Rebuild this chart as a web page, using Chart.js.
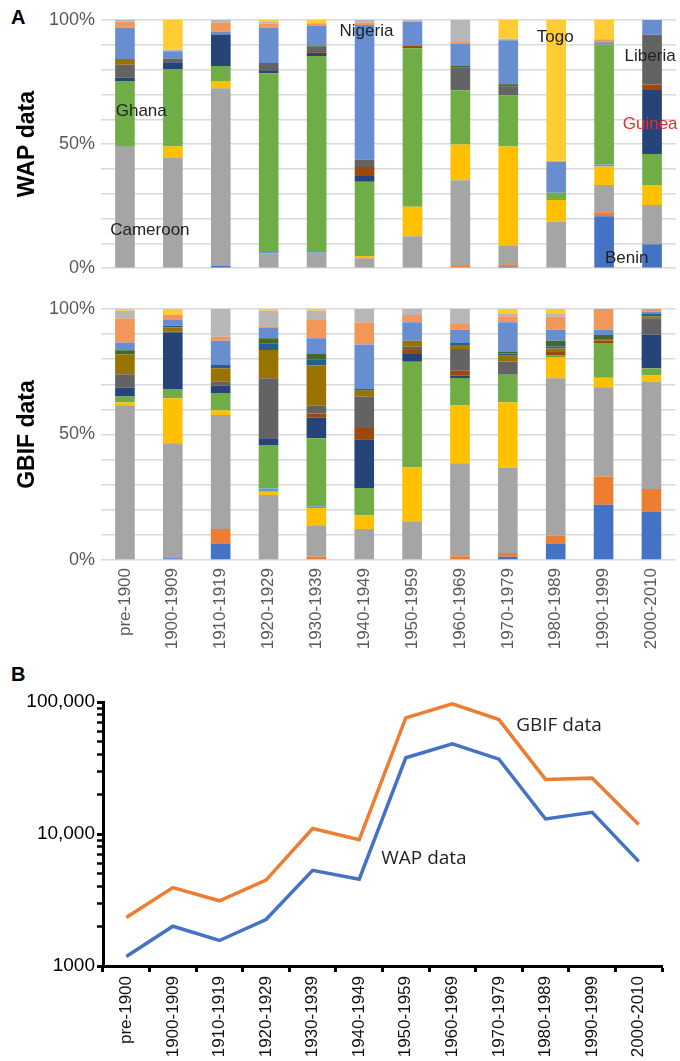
<!DOCTYPE html>
<html>
<head>
<meta charset="utf-8">
<script src="https://cdn.jsdelivr.net/npm/chart.js@4.4.1/dist/chart.umd.min.js"></script>
<style>
  body { margin: 0; background: #fff; }
  .panel { position: absolute; left: 0; }
  .tag { position: absolute; left: 11px; font: bold 20px "Liberation Sans", Arial, sans-serif; color: #000; }
</style>
</head>
<body>
<div class="tag" style="top:6px;">A</div>
<div class="tag" style="top:663px;">B</div>
<canvas id="wapChart" class="panel" style="top:0px;" width="680" height="285"></canvas>
<canvas id="gbifChart" class="panel" style="top:290px;" width="680" height="370"></canvas>
<canvas id="lineChart" class="panel" style="top:680px;" width="680" height="381"></canvas>
<script>
// decades on the x axis
const decades = ['pre-1900', '1900-1909', '1910-1919', '1920-1929', '1930-1939', '1940-1949',
  '1950-1959', '1960-1969', '1970-1979', '1980-1989', '1990-1999', '2000-2010'];

// countries, bottom of stack first
const countries = ['Benin', 'Burkina Faso', 'Cameroon', "Côte d'Ivoire", 'Gambia', 'Ghana', 'Guinea',
  'Guinea-Bissau', 'Liberia', 'Mali', 'Mauritania', 'Niger', 'Nigeria', 'Senegal', 'Sierra Leone', 'Togo'];
const countryColors = ['#4472C4', '#ED7D31', '#A5A5A5', '#FFC000', '#5B9BD5', '#70AD47', '#264478',
  '#9E480E', '#636363', '#997300', '#255E91', '#43682B', '#698ED0', '#F1975A', '#B7B7B7', '#FFCD33'];

// WAP data, % of records per decade
const wapBenin       = [0, 0, 0.9, 0, 0, 0, 0, 0, 0.7, 0, 20.9, 9.7];
const wapBurkina     = [0, 0, 0, 0, 0, 0, 0, 0.9, 0.9, 0, 1.6, 0];
const wapCameroon    = [49.3, 44.4, 71.7, 6.0, 6.2, 4.0, 12.8, 34.6, 7.3, 18.8, 11.0, 15.8];
const wapIvoryCoast  = [0, 4.6, 2.9, 0, 0, 0.9, 11.9, 14.4, 40.1, 8.7, 7.4, 8.1];
const wapGambia      = [0, 0, 0, 0.9, 0.7, 0, 0, 0, 0, 0, 0.8, 0];
const wapGhana       = [26.2, 31.1, 6.0, 71.7, 78.5, 29.9, 63.6, 21.9, 20.5, 2.9, 48.3, 12.5];
const wapGuinea      = [1.3, 2.9, 12.8, 0.9, 1.3, 2.3, 0, 0, 0, 0, 0, 25.8];
const wapBissau      = [0, 0, 0, 0, 0.7, 3.7, 1.1, 0, 0, 0, 0, 2.3];
const wapLiberia     = [5.3, 1.5, 0, 3.3, 1.7, 2.9, 0, 9.0, 3.7, 0, 0, 20.0];
const wapMali        = [2.3, 0, 0, 0, 0, 0, 0, 0, 0, 0, 0, 0];
const wapMauritania  = [0, 0, 0, 0, 0, 0, 0, 0, 0, 0, 0, 0];
const wapNiger       = [0, 0, 0, 0, 0.5, 0, 0, 0.7, 0.8, 0, 0, 0];
const wapNigeria     = [12.6, 2.9, 1.1, 14.2, 8.1, 54.3, 9.5, 8.9, 17.7, 12.6, 0.9, 6.0];
const wapSenegal     = [2.4, 0, 3.6, 1.7, 0.9, 0.9, 0, 0.8, 0, 0, 1.3, 0];
const wapSierraLeone = [0.7, 0.7, 1.1, 0.7, 0, 1.1, 0.7, 8.9, 0.7, 0, 0, 0];
const wapTogo        = [0, 11.9, 0, 0.7, 1.3, 0, 0, 0, 7.5, 57.0, 7.7, 0];

// GBIF data, % of records per decade
const gbifBenin       = [0, 0.7, 6.6, 0, 0, 0, 0, 0, 1.3, 6.6, 22.0, 19.3];
const gbifBurkina     = [0, 0, 5.7, 0, 1.3, 0, 0, 1.5, 1.5, 3.1, 11.2, 9.0];
const gbifCameroon    = [61.8, 45.8, 45.4, 25.9, 12.6, 12.4, 15.4, 37.1, 34.1, 62.8, 35.6, 42.8];
const gbifIvoryCoast  = [1.1, 17.9, 1.7, 1.3, 6.8, 5.3, 21.5, 23.0, 25.9, 8.2, 3.7, 2.4];
const gbifGambia      = [0, 0, 0, 1.3, 0.7, 0, 0, 0, 0, 0, 0, 0];
const gbifGhana       = [2.4, 3.7, 7.0, 17.4, 27.2, 11.0, 42.1, 11.0, 11.0, 1.1, 13.9, 2.9];
const gbifGuinea      = [3.6, 22.3, 2.9, 2.7, 8.2, 19.5, 3.1, 0.9, 0, 0, 0, 13.3];
const gbifBissau      = [0, 0, 0, 0, 1.6, 4.4, 1.6, 2.0, 0, 1.2, 0.9, 0];
const gbifLiberia     = [5.3, 0.5, 1.6, 23.9, 3.1, 12.5, 1.3, 8.6, 5.3, 0, 0, 6.6];
const gbifMali        = [8.0, 1.7, 5.3, 11.2, 16.2, 2.4, 2.4, 1.6, 2.3, 1.3, 0.7, 0.8];
const gbifMauritania  = [0, 0.7, 1.3, 2.7, 2.4, 0, 0, 0.8, 0.9, 0.8, 0, 0.9];
const gbifNiger       = [1.6, 0, 0, 2.0, 2.3, 0.7, 0, 0, 0.8, 2.3, 1.6, 0];
const gbifNigeria     = [3.1, 2.3, 9.7, 4.1, 6.0, 17.7, 7.3, 5.3, 11.6, 4.4, 2.1, 0.9];
const gbifSenegal     = [9.6, 2.1, 1.6, 0.7, 7.3, 8.9, 2.9, 2.3, 2.4, 5.2, 8.2, 1.1];
const gbifSierraLeone = [3.1, 0, 11.0, 6.2, 3.7, 5.3, 2.4, 6.0, 0.9, 1.1, 0, 0];
const gbifTogo        = [0.7, 2.3, 0, 0.7, 0.7, 0, 0, 0, 2.0, 2.0, 0, 0];

// total records per decade (panel B)
const wapTotals  = [1180, 2000, 1560, 2250, 5300, 4550, 37800, 48200, 36900, 13000, 14600, 6200];
const gbifTotals = [2330, 3930, 3120, 4470, 11000, 9070, 75900, 96800, 73600, 25900, 26500, 11800];

// y tick labels
const shareTicks = [0, 50, 100];
const countTicks = [1000, 10000, 100000];
const countTickLabels = ['1000', '10,000', '100,000'];

// country names written on panel A (category index, % value)
const wapNotes = [
  { text: 'Ghana', x: 0.34, y: 63.2, color: '#222' },
  { text: 'Cameroon', x: 0.52, y: 15.2, color: '#222' },
  { text: 'Nigeria', x: 5.04, y: 95.6, color: '#222' },
  { text: 'Togo', x: 8.98, y: 93.2, color: '#222' },
  { text: 'Liberia', x: 10.96, y: 85.2, color: '#222' },
  { text: 'Guinea', x: 10.96, y: 58.0, color: '#E0302A' },
  { text: 'Benin', x: 10.47, y: 4.0, color: '#222' }
];
const lineNotes = [
  { text: 'GBIF data', x: 9.29, y: 66300, color: '#222' },
  { text: 'WAP data', x: 6.39, y: 6550, color: '#222' }
];

const FONT = '"Liberation Sans", Arial, sans-serif';

const wapSeries = [wapBenin, wapBurkina, wapCameroon, wapIvoryCoast, wapGambia, wapGhana, wapGuinea,
  wapBissau, wapLiberia, wapMali, wapMauritania, wapNiger, wapNigeria, wapSenegal, wapSierraLeone, wapTogo];
const gbifSeries = [gbifBenin, gbifBurkina, gbifCameroon, gbifIvoryCoast, gbifGambia, gbifGhana, gbifGuinea,
  gbifBissau, gbifLiberia, gbifMali, gbifMauritania, gbifNiger, gbifNigeria, gbifSenegal, gbifSierraLeone, gbifTogo];

// scale every decade so the stack sums to 100%
function toDatasets(series) {
  const sums = decades.map((_, i) => series.reduce((t, s) => t + s[i], 0));
  return series.map((s, k) => ({
    label: countries[k],
    data: s.map((v, i) => v / sums[i] * 100),
    backgroundColor: countryColors[k],
    borderWidth: 0,
    categoryPercentage: 1,
    barPercentage: 0.41
  }));
}

// draws text notes at data positions
const notesPlugin = {
  id: 'notes',
  afterDatasetsDraw(chart, args, opts) {
    if (!opts.items) return;
    const ctx = chart.ctx;
    ctx.save();
    ctx.font = opts.font;
    ctx.textAlign = 'center';
    ctx.textBaseline = 'middle';
    opts.items.forEach(n => {
      ctx.fillStyle = n.color;
      ctx.fillText(n.text, chart.scales.x.getPixelForValue(n.x), chart.scales.y.getPixelForValue(n.y));
    });
    ctx.restore();
  }
};

function stackedOptions(title, showX, notes) {
  return {
    responsive: false,
    animation: false,
    layout: { padding: { top: showX ? 19 : 20, right: 4, bottom: showX ? 5 : 15, left: 0 } },
    plugins: {
      legend: { display: false },
      tooltip: { enabled: false },
      notes: { items: notes, font: '17px ' + FONT }
    },
    scales: {
      x: {
        stacked: true,
        display: showX,
        grid: { display: false, drawTicks: false },
        border: { display: false },
        ticks: { color: '#595959', font: { size: 17, family: FONT }, minRotation: 90, maxRotation: 90, padding: 8, autoSkip: false },
        afterFit: s => { if (showX) s.height = 95; }
      },
      y: {
        stacked: true,
        min: 0,
        max: 100,
        border: { display: false },
        grid: { color: '#D9D9D9', lineWidth: 1.5, drawTicks: false },
        ticks: {
          stepSize: 10,
          autoSkip: false,
          color: '#595959',
          font: { size: 18, family: FONT },
          padding: 6,
          callback: v => shareTicks.includes(v) ? v + '%' : ''
        },
        title: { display: true, text: title, color: '#000', font: { size: 23, weight: 'bold', family: FONT }, padding: { top: 14, bottom: 0 } },
        afterFit: s => { s.width = 101; }
      }
    }
  };
}

new Chart(document.getElementById('wapChart'), {
  type: 'bar',
  data: { labels: decades, datasets: toDatasets(wapSeries) },
  options: stackedOptions('WAP data', false, wapNotes),
  plugins: [notesPlugin]
});

new Chart(document.getElementById('gbifChart'), {
  type: 'bar',
  data: { labels: decades, datasets: toDatasets(gbifSeries) },
  options: stackedOptions('GBIF data', true, []),
  plugins: [notesPlugin]
});

// Line chart (log scale)
new Chart(document.getElementById('lineChart'), {
  type: 'line',
  data: {
    labels: decades,
    datasets: [
      { label: 'GBIF data', data: gbifTotals, borderColor: '#ED7D31', borderWidth: 3.5, pointRadius: 0, tension: 0 },
      { label: 'WAP data', data: wapTotals, borderColor: '#4472C4', borderWidth: 3.5, pointRadius: 0, tension: 0 }
    ]
  },
  options: {
    responsive: false,
    animation: false,
    layout: { padding: { top: 22, right: 18, bottom: 0, left: 0 } },
    plugins: {
      legend: { display: false },
      tooltip: { enabled: false },
      notes: { items: lineNotes, font: '19px "Open Sans", sans-serif' }
    },
    scales: {
      x: {
        offset: true,
        border: { color: '#000', width: 3 },
        grid: { offset: true, drawOnChartArea: false, tickLength: 6, tickWidth: 3, tickColor: '#000' },
        ticks: { color: '#111', font: { size: 17, family: FONT }, minRotation: 90, maxRotation: 90, padding: 4, autoSkip: false },
        afterFit: s => { s.height = 95; }
      },
      y: {
        type: 'logarithmic',
        min: 1000,
        max: 100000,
        border: { color: '#000', width: 3 },
        grid: {
          drawOnChartArea: false,
          drawTicks: true,
          tickLength: 6,
          tickColor: '#000',
          tickWidth: c => (c.tick && countTicks.includes(c.tick.value)) ? 3 : 2.5
        },
        afterBuildTicks: s => {
          const t = [];
          for (let d = 1000; d < 100000; d *= 10) {
            for (let m = 1; m < 10; m++) t.push({ value: d * m });
          }
          t.push({ value: 100000 });
          s.ticks = t;
        },
        ticks: {
          autoSkip: false,
          color: '#000',
          font: { size: 19, family: FONT },
          padding: 2,
          callback: v => {
            const i = countTicks.indexOf(v);
            return i >= 0 ? countTickLabels[i] : '';
          }
        },
        afterFit: s => { s.width = 103; }
      }
    }
  },
  plugins: [notesPlugin]
});
</script>
</body>
</html>
